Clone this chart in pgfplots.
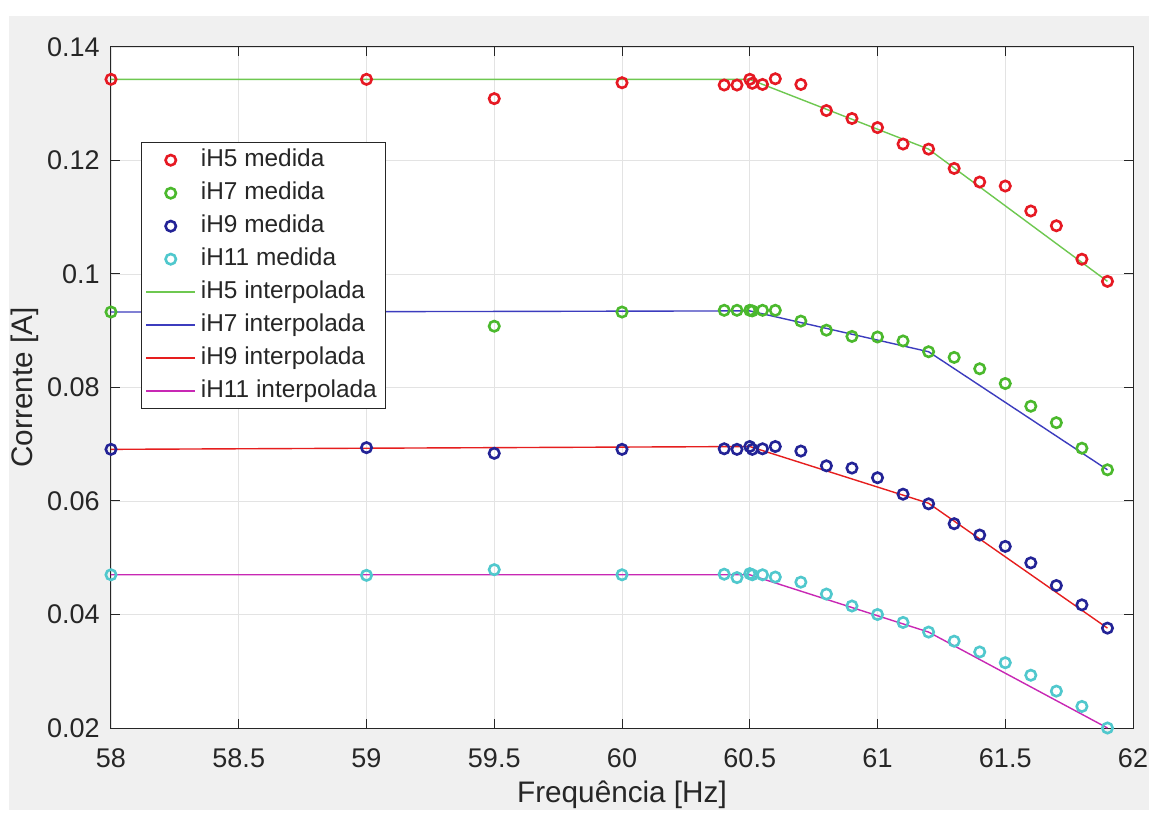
\documentclass[border=0pt]{standalone}
\usepackage{pgfplots}
\pgfplotsset{compat=1.18}
\usepackage{fontspec}
\setmainfont{Liberation Sans}
\definecolor{bggray}{RGB}{240,240,240}
\definecolor{axgray}{RGB}{38,38,38}
\definecolor{mred}{RGB}{230,25,35}
\definecolor{mgreen}{RGB}{75,185,45}
\definecolor{mblue}{RGB}{35,35,150}
\definecolor{mcyan}{RGB}{80,200,205}
\definecolor{lgreen}{RGB}{110,200,80}
\definecolor{lblue}{RGB}{60,60,190}
\definecolor{lred}{RGB}{230,30,30}
\definecolor{lmag}{RGB}{200,40,180}
\begin{document}
\begin{tikzpicture}
\fill[white] (0,0) rectangle (574.5pt,405pt);
\fill[bggray] (4.5pt,0) rectangle (574.5pt,397pt);
\begin{axis}[
  at={(55.5pt,41pt)}, anchor=south west,
  width=511pt, height=340.5pt, scale only axis,
  xmin=58, xmax=62, ymin=0.02, ymax=0.14,
  xtick={58,58.5,59,59.5,60,60.5,61,61.5,62},
  xticklabels={58,58.5,59,59.5,60,60.5,61,61.5,62},
  ytick={0.02,0.04,0.06,0.08,0.1,0.12,0.14},
  yticklabels={0.02,0.04,0.06,0.08,0.1,0.12,0.14},
  axis background/.style={fill=white},
  axis line style={axgray, line width=0.5pt},
  every tick/.style={axgray, line width=0.5pt},
  major tick length=4.5pt,
  grid=major,
  major grid style={gray!22, line width=0.45pt},
  /pgf/number format/assume math mode=true,
  ticklabel style={font=\fontsize{13.5}{16}\selectfont, text=axgray},
  xticklabel style={anchor=north, inner sep=0pt, yshift=-10pt},
  yticklabel style={anchor=east, inner sep=0pt, xshift=-5.5pt},
  xlabel={Frequência [Hz]}, ylabel={Corrente [A]},
  label style={font=\fontsize{14.85}{17}\selectfont, text=axgray},
  xlabel style={at={(axis description cs:0.5,-0.0984)}, anchor=center},
  ylabel style={at={(axis description cs:-0.0841,0.5)}, anchor=center},
  legend cell align=left,
  legend image code/.code={\draw[mark repeat=2,mark phase=2,#1] plot coordinates {(0pt,0pt) (12.25pt,0pt) (24.5pt,0pt)};},
  legend style={at={(0.0294,0.8605)}, anchor=north west, draw=axgray, line width=0.5pt, fill=white,
    font=\fontsize{12.2}{14}\selectfont, inner xsep=2pt, inner ysep=1pt, row sep=0.8pt,
    nodes={text height=9pt, text depth=2.7pt, inner xsep=2.5pt, inner ysep=2pt, text=black!85}},
  mk/.style={only marks, mark=o, mark size=2.6pt, line width=1.3pt, mark options={line width=1.3pt}},
  ln/.style={no marks, line width=0.7pt},
]
\addplot[mk, color=mred] coordinates {
(58,0.1343) (59,0.1343) (59.5,0.1309) (60,0.1337) (60.4,0.1333) (60.45,0.1333)
(60.5,0.1343) (60.51,0.1336) (60.55,0.1334) (60.6,0.1344) (60.7,0.1334) (60.8,0.1288)
(60.9,0.1274) (61,0.1258) (61.1,0.1229) (61.2,0.1220) (61.3,0.1186) (61.4,0.1162)
(61.5,0.1155) (61.6,0.1111) (61.7,0.1085) (61.8,0.1026) (61.9,0.0987)};
\addlegendentry{iH5 medida}
\addplot[mk, color=mgreen] coordinates {
(58,0.0933) (59,0.0934) (59.5,0.0908) (60,0.0933) (60.4,0.0936) (60.45,0.0936)
(60.5,0.0936) (60.51,0.0935) (60.55,0.0936) (60.6,0.0936) (60.7,0.0917) (60.8,0.0901)
(60.9,0.0890) (61,0.0889) (61.1,0.0882) (61.2,0.0863) (61.3,0.0853) (61.4,0.0833)
(61.5,0.0807) (61.6,0.0767) (61.7,0.0738) (61.8,0.0693) (61.9,0.0655)};
\addlegendentry{iH7 medida}
\addplot[mk, color=mblue] coordinates {
(58,0.0691) (59,0.0694) (59.5,0.0684) (60,0.0691) (60.4,0.0692) (60.45,0.0691)
(60.5,0.0696) (60.51,0.0691) (60.55,0.0692) (60.6,0.0696) (60.7,0.0688) (60.8,0.0662)
(60.9,0.0658) (61,0.0641) (61.1,0.0612) (61.2,0.0595) (61.3,0.0560) (61.4,0.0540)
(61.5,0.0520) (61.6,0.0491) (61.7,0.0451) (61.8,0.0417) (61.9,0.0376)};
\addlegendentry{iH9 medida}
\addplot[mk, color=mcyan] coordinates {
(58,0.0470) (59,0.0469) (59.5,0.0479) (60,0.0470) (60.4,0.0471) (60.45,0.0465)
(60.5,0.0472) (60.51,0.0470) (60.55,0.0470) (60.6,0.0466) (60.7,0.0457) (60.8,0.0436)
(60.9,0.0415) (61,0.0400) (61.1,0.0386) (61.2,0.0369) (61.3,0.0353) (61.4,0.0334)
(61.5,0.0315) (61.6,0.0293) (61.7,0.0265) (61.8,0.0238) (61.9,0.0200)};
\addlegendentry{iH11 medida}
\addplot[ln, color=lgreen] coordinates {(58,0.1343) (60.5,0.1343) (61.2,0.1220) (61.9,0.0987)};
\addlegendentry{iH5 interpolada}
\addplot[ln, color=lblue] coordinates {(58,0.0933) (59.5,0.0934) (60.5,0.0935) (61.2,0.0863) (61.9,0.0655)};
\addlegendentry{iH7 interpolada}
\addplot[ln, color=lred] coordinates {(58,0.0691) (59,0.0693) (60,0.0695) (60.5,0.0696) (61.2,0.0596) (61.9,0.0376)};
\addlegendentry{iH9 interpolada}
\addplot[ln, color=lmag] coordinates {(58,0.0470) (60.5,0.0470) (61.2,0.0369) (61.9,0.0200)};
\addlegendentry{iH11 interpolada}
\end{axis}
\end{tikzpicture}
\end{document}
